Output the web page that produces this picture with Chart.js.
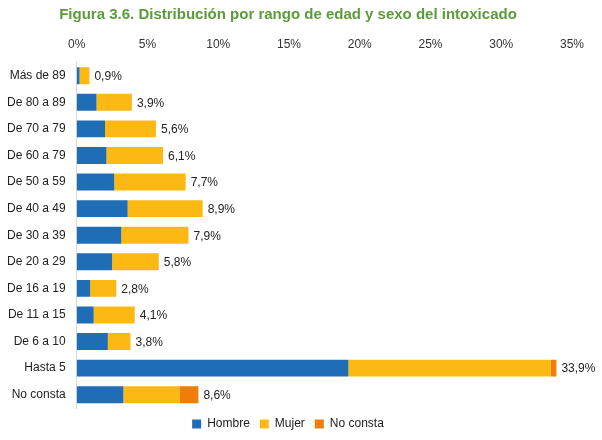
<!DOCTYPE html>
<html>
<head>
<meta charset="utf-8">
<script src="https://cdn.jsdelivr.net/npm/chart.js@4"></script>
<style>
  body { margin: 0; background: #fff; }
  #wrap { width: 602px; height: 440px; position: relative; }
</style>
</head>
<body>
<div id="wrap"><canvas id="c" width="602" height="440"></canvas></div>
<script>
const categories = ['Más de 89', 'De 80 a 89', 'De 70 a 79', 'De 60 a 79', 'De 50 a 59', 'De 40 a 49',
    'De 30 a 39', 'De 20 a 29', 'De 16 a 19', 'De 11 a 15', 'De 6 a 10', 'Hasta 5', 'No consta'];
const hombre   = [0.2, 1.4, 2.0, 2.1, 2.65, 3.6, 3.15, 2.5, 0.95, 1.2, 2.2, 19.2, 3.3];
const mujer    = [0.7, 2.5, 3.6, 4.0, 5.05, 5.3, 4.75, 3.3, 1.85, 2.9, 1.6, 14.3, 4.0];
const noConsta = [0, 0, 0, 0, 0, 0, 0, 0, 0, 0, 0, 0.4, 1.3];
const totalLabels = ['0,9%', '3,9%', '5,6%', '6,1%', '7,7%', '8,9%', '7,9%', '5,8%', '2,8%', '4,1%', '3,8%', '33,9%', '8,6%'];

const font = 'Liberation Sans, Arial, sans-serif';

// draw the total label just right of each stacked bar
const totalsPlugin = {
    id: 'totals',
    afterDatasetsDraw(chart) {
        const ctx = chart.ctx;
        const x = chart.scales.x, y = chart.scales.y;
        ctx.save();
        ctx.font = '12px ' + font;
        ctx.fillStyle = '#222';
        ctx.textBaseline = 'middle';
        categories.forEach((c, i) => {
            const total = hombre[i] + mujer[i] + noConsta[i];
            ctx.fillText(totalLabels[i], x.getPixelForValue(total) + 5, y.getPixelForValue(i) + 1);
        });
        ctx.restore();
    }
};

new Chart(document.getElementById('c').getContext('2d'), {
    type: 'bar',
    data: {
        labels: categories,
        datasets: [
            { label: 'Hombre', data: hombre, backgroundColor: '#1f6db4' },
            { label: 'Mujer', data: mujer, backgroundColor: '#fdb913' },
            { label: 'No consta', data: noConsta, backgroundColor: '#f07d0a' }
        ]
    },
    options: {
        indexAxis: 'y',
        responsive: false,
        animation: false,
        layout: { padding: { left: 4, right: 30, top: 0, bottom: 0 } },
        datasets: { bar: { categoryPercentage: 0.75, barPercentage: 0.85 } },
        scales: {
            x: {
                position: 'top', stacked: true, min: 0, max: 35,
                ticks: { stepSize: 5, color: '#333', font: { size: 12, family: font }, callback: v => v + '%' },
                grid: { display: false }, border: { display: false }
            },
            y: {
                stacked: true,
                ticks: { color: '#222', font: { size: 12, family: font } },
                grid: { display: false }, border: { color: '#d9d9d9' }
            }
        },
        plugins: {
            title: {
                display: true, text: 'Figura 3.6. Distribución por rango de edad y sexo del intoxicado',
                color: '#5b9b3a', font: { size: 15, weight: 'bold', family: font }, padding: { top: 6, bottom: 10 }
            },
            legend: {
                position: 'bottom',
                labels: { boxWidth: 9, boxHeight: 9, color: '#222', font: { size: 12, family: font } }
            },
            tooltip: { enabled: false }
        }
    },
    plugins: [totalsPlugin]
});
</script>
</body>
</html>
